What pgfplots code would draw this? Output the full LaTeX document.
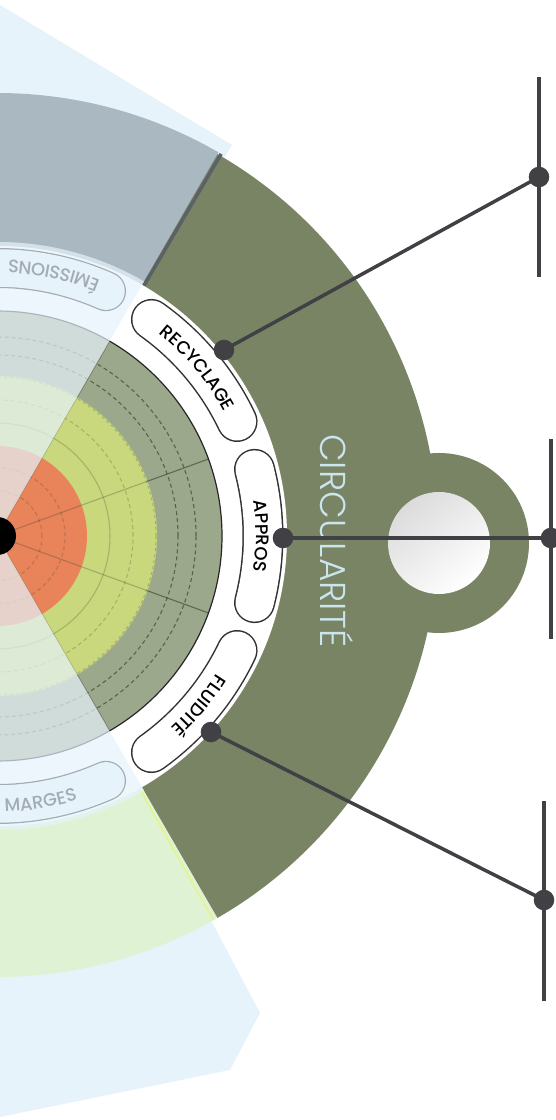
\documentclass[border=0pt]{standalone}
\usepackage{pgfplots}
\pgfplotsset{compat=1.18}
\usepackage{fontspec}
\setmainfont{Poppins}
\newfontfamily\lightfont{Poppins Light}
\newfontfamily\medfont{Poppins Medium}
\usetikzlibrary{decorations.text}

\definecolor{circ}{HTML}{788463}
\definecolor{band}{HTML}{AAB8C1}
\definecolor{pale}{HTML}{E0F2D4}
\definecolor{lb}{HTML}{E6F3FB}
\definecolor{ringdark}{HTML}{9CA88C}
\definecolor{ringyel}{HTML}{C9D87C}
\definecolor{ringora}{HTML}{E8835A}
\definecolor{lead}{HTML}{404045}
\definecolor{fadetxt}{HTML}{A3ACB3}
\definecolor{circtxt}{HTML}{CBE4EE}
\definecolor{gridol}{HTML}{3C4630}
\definecolor{edge}{HTML}{5C6168}
\definecolor{lime}{HTML}{E3F58A}

\newcommand\labelfont{\medfont\fontsize{18}{18}\selectfont}

\begin{document}
\begin{tikzpicture}
\begin{axis}[x=1pt, y=1pt, xmin=0, xmax=555, ymin=0, ymax=1120,
    hide axis, clip=true]

% faded outer wedges
\addplot[draw=none, fill=lb] coordinates {(-3,584) (232,975) (0,1115) (-100,1175) (-100,584)} -- cycle;
\addplot[draw=none, fill=lb] coordinates {(-3,584) (212,198) (260,107) (230,50) (0,3) (-100,-20) (-100,584)} -- cycle;

\begin{scope}[shift={(axis cs:-3,584)}]
  % outer bands
  \fill[band] (60:289pt) arc[start angle=60, end angle=120, radius=289pt]
    -- (120:443pt) arc[start angle=120, end angle=60, radius=443pt] -- cycle;
  \fill[pale] (-120:289pt) arc[start angle=-120, end angle=-60, radius=289pt]
    -- (-60:441pt) arc[start angle=-60, end angle=-120, radius=441pt] -- cycle;
  \fill[circ] (-60:287pt) arc[start angle=-60, end angle=60, radius=287pt]
    -- (60:441pt) arc[start angle=60, end angle=-60, radius=441pt] -- cycle;
  \fill[circ] (442pt,-7pt) circle[radius=90pt];
  \shade[top color=black!14, middle color=white, bottom color=white, shading angle=40]
    (442pt,-7pt) circle[radius=51pt];
  \draw[edge, line width=3.5pt] (59.6:289pt) -- (59.6:443pt);
  \draw[lime, line width=1.5pt] (-60.6:289pt) -- (-60.6:441pt);

  % rings
  \fill[white] (0pt,0pt) circle[radius=290pt];
  \fill[ringdark] (0pt,0pt) circle[radius=225pt];
  \fill[ringyel] (0pt,0pt) circle[radius=160pt];
  \fill[ringora] (0pt,0pt) circle[radius=90pt];

  % grid
  \begin{scope}[draw=gridol, line width=1.1pt]
    \draw[draw opacity=0.7, dash pattern=on 4pt off 3pt] (0pt,0pt) circle[radius=181pt];
    \draw[draw opacity=0.7, dash pattern=on 4pt off 3pt] (0pt,0pt) circle[radius=199pt];
    \draw[draw opacity=0.25, dash pattern=on 4pt off 3pt] (0pt,0pt) circle[radius=136pt];
    \draw[draw opacity=0.25, dash pattern=on 3pt off 3pt] (0pt,0pt) circle[radius=159pt];
    \draw[draw opacity=0.25] (0pt,0pt) circle[radius=113pt];
    \draw[draw opacity=0.25, dash pattern=on 4pt off 3pt] (0pt,0pt) circle[radius=45pt];
    \draw[draw opacity=0.25, dash pattern=on 4pt off 3pt] (0pt,0pt) circle[radius=68pt];
    \draw[draw opacity=0.3] (0pt,0pt) -- (20:160pt);
    \draw[draw opacity=0.3] (0pt,0pt) -- (-20:160pt);
    \draw[draw opacity=0.3] (0pt,0pt) -- (60:160pt);
    \draw[draw opacity=0.3] (0pt,0pt) -- (-60:160pt);
    \draw[draw opacity=0.65] (20:160pt) -- (20:225pt);
    \draw[draw opacity=0.65] (-20:160pt) -- (-20:225pt);
    \draw[draw opacity=0.65] (60:160pt) -- (60:225pt);
    \draw[draw opacity=0.65] (-60:160pt) -- (-60:225pt);
  \end{scope}
  \draw[black!85, line width=1.2pt] (0pt,0pt) circle[radius=225pt];

  % label pills
  \draw[black!80, line width=41pt, line cap=round] (54.5:266pt) arc[start angle=54.5, end angle=25.5, radius=266pt];
  \draw[white, line width=38pt, line cap=round] (54.5:266pt) arc[start angle=54.5, end angle=25.5, radius=266pt];
  \draw[black!80, line width=41pt, line cap=round] (14.5:266pt) arc[start angle=14.5, end angle=-14.5, radius=266pt];
  \draw[white, line width=38pt, line cap=round] (14.5:266pt) arc[start angle=14.5, end angle=-14.5, radius=266pt];
  \draw[black!80, line width=41pt, line cap=round] (-25.5:266pt) arc[start angle=-25.5, end angle=-54.5, radius=266pt];
  \draw[white, line width=38pt, line cap=round] (-25.5:266pt) arc[start angle=-25.5, end angle=-54.5, radius=266pt];

  % faded half
  \fill[lb, fill opacity=0.7] (0pt,0pt) -- (60:294pt) arc[start angle=60, end angle=300, radius=294pt] -- cycle;
  \draw[fadetxt, line width=40pt, line cap=round] (66:268pt) arc[start angle=66, end angle=114, radius=268pt];
  \draw[lb, line width=37.5pt, line cap=round] (66:268pt) arc[start angle=66, end angle=114, radius=268pt];
  \draw[fadetxt, line width=40pt, line cap=round] (-66:268pt) arc[start angle=-66, end angle=-114, radius=268pt];
  \draw[lb, line width=37.5pt, line cap=round] (-66:268pt) arc[start angle=-66, end angle=-114, radius=268pt];
  \fill[black] (0pt,0pt) circle[radius=19pt];

  % labels
  \path[decorate, decoration={text along path, text align=center,
      text={|\labelfont|RECYCLAGE}}] (57:259pt) arc[start angle=57, end angle=23, radius=259pt];
  \path[decorate, decoration={text along path, text align=center,
      text={|\labelfont|APPROS}}] (17:259pt) arc[start angle=17, end angle=-17, radius=259pt];
  \path[decorate, decoration={text along path, text align=center,
      text={|\labelfont|FLUIDITÉ}}] (-23:259pt) arc[start angle=-23, end angle=-57, radius=259pt];
  \path[decorate, decoration={text along path, text align=left,
      text={|\labelfont\color{fadetxt}|ÉMISSIONS}}] (68:276pt) arc[start angle=68, end angle=130, radius=276pt];
  \path[decorate, decoration={text along path, text align=right,
      text={|\labelfont\color{fadetxt}|MARGES}}] (-115:276pt) arc[start angle=-115, end angle=-73, radius=276pt];
\end{scope}

\node[rotate=-90, text=circtxt, font=\lightfont\fontsize{36}{36}\selectfont] at (axis cs:337,579) {CIRCULARITÉ};

% leader lines to the side bars
\addplot[lead, line width=3.5pt, mark=*, mark size=8.5pt, mark options={fill=lead, solid}] coordinates {(224,770) (539,943)};
\addplot[lead, line width=3.5pt, mark=*, mark size=8.5pt, mark options={fill=lead, solid}] coordinates {(283,582) (551,582)};
\addplot[lead, line width=3.5pt, mark=*, mark size=8.5pt, mark options={fill=lead, solid}] coordinates {(211,388) (544,220)};
\addplot[lead, line width=4pt] coordinates {(539,843) (539,1043)};
\addplot[lead, line width=4pt] coordinates {(551,481) (551,681)};
\addplot[lead, line width=4pt] coordinates {(544,119) (544,319)};
\end{axis}
\pgfresetboundingbox
\useasboundingbox (0,0) rectangle (555pt,1120pt);
\end{tikzpicture}
\end{document}
